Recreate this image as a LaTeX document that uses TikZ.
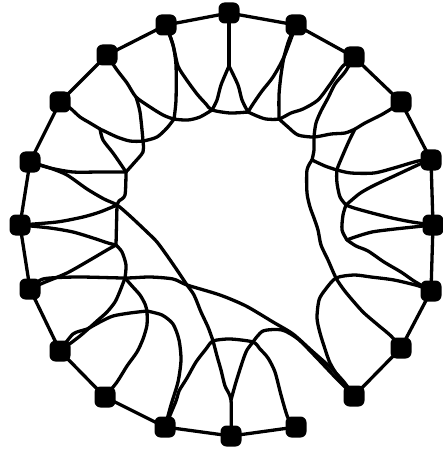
\documentclass[tikz,border=0pt]{standalone}
\begin{document}
\begin{tikzpicture}[x=1pt,y=-1pt,
  vtx/.style={fill=black, rectangle, rounded corners=6pt, minimum size=21pt, inner sep=0pt},
  edge/.style={line width=3.3pt, line cap=round, line join=round},
  sm/.style={smooth, tension=0.45}]
\useasboundingbox (0,0) rectangle (442,449);
% outer vertices
\node[vtx] (P0) at (229,13) {};
\node[vtx] (P1) at (296,25) {};
\node[vtx] (P2) at (354,57) {};
\node[vtx] (P3) at (401,102) {};
\node[vtx] (P4) at (431,160) {};
\node[vtx] (P5) at (433,225) {};
\node[vtx] (P6) at (431,291) {};
\node[vtx] (P7) at (401,348) {};
\node[vtx] (P8) at (354,396) {};
\node[vtx] (P9) at (296,427) {};
\node[vtx] (P10) at (231,436) {};
\node[vtx] (P11) at (165,427) {};
\node[vtx] (P12) at (105,397) {};
\node[vtx] (P13) at (60,351) {};
\node[vtx] (P14) at (30,289) {};
\node[vtx] (P15) at (20,225) {};
\node[vtx] (P16) at (30,162) {};
\node[vtx] (P17) at (60,102) {};
\node[vtx] (P18) at (107,55) {};
\node[vtx] (P19) at (166,25) {};
% inner junctions
\coordinate (T0) at (229,66);
\coordinate (K0) at (212,110);
\coordinate (K1) at (248,112);
\coordinate (Ja) at (174,119);
\coordinate (J18) at (136,97);
\coordinate (J17) at (100,129);
\coordinate (Xc) at (143,141);
\coordinate (Jb) at (126,172);
\coordinate (Jl1) at (117,205);
\coordinate (Jl2) at (116,245);
\coordinate (Jl) at (125,278);
\coordinate (Jm) at (147,311);
\coordinate (Jx) at (187,285);
\coordinate (Bv) at (231,400);
\coordinate (BL) at (213,341);
\coordinate (BR) at (253,342);
\coordinate (Jc) at (279,119);
\coordinate (Jd) at (314,137);
\coordinate (Je) at (355,129);
\coordinate (S2) at (312,160);
\coordinate (Ji) at (337,170);
\coordinate (Jf) at (346,205);
\coordinate (Jg) at (347,240);
\coordinate (Jh) at (336,278);
% outer path
\draw[edge] (P9.center) -- (P10.center) -- (P11.center) -- (P12.center) -- (P13.center)
  -- (P14.center) -- (P15.center) -- (P16.center) -- (P17.center) -- (P18.center)
  -- (P19.center) -- (P0.center) -- (P1.center) -- (P2.center) -- (P3.center)
  -- (P4.center) -- (P5.center) -- (P6.center) -- (P7.center) -- (P8.center);
% top
\draw[edge] plot[sm] coordinates {(P19.center) (173,45) (176,65) (176,100) (Ja)};
\draw[edge] plot[sm] coordinates {(P19.center) (173,45) (178,66) (186,79) (197,94) (206,104) (K0) (230,113) (K1)};
\draw[edge] plot[sm] coordinates {(K1) (253,104) (262,91) (273,77) (284,57) (P1.center)};
\draw[edge] (P0.center) -- (T0);
\draw[edge] plot[sm] coordinates {(T0) (221,85) (217,100) (K0)};
\draw[edge] plot[sm] coordinates {(K0) (200,117) (188,120) (Ja) (163,115) (150,107) (J18) (127,83) (117,70) (P18.center)};
\draw[edge] plot[sm] coordinates {(T0) (238,85) (242,100) (K1)};
\draw[edge] plot[sm] coordinates {(K1) (257,116) (266,119) (Jc) (291,113) (303,109) (318,100) (331,83) (342,67) (P2.center)};
% right
\draw[edge] plot[sm] coordinates {(P1.center) (289,40) (284,57) (281,75) (279,95) (Jc)};
\draw[edge] plot[sm] coordinates {(Jc) (288,127) (298,135) (Jd) (331,134) (345,133) (Je) (365,123) (381,115) (391,109) (P3.center)};
\draw[edge] plot[sm] coordinates {(P2.center) (345,72) (335,84) (328,98) (321,111) (316,123) (Jd) (314,150) (S2)};
\draw[edge] plot[sm] coordinates {(S2) (325,166) (Ji) (351,173) (374,173) (394,168) (418,161) (P4.center)};
\draw[edge] plot[sm] coordinates {(Je) (349,141) (342,157) (Ji) (337,183) (340,197) (Jf)};
\draw[edge] plot[sm] coordinates {(Jf) (354,208) (372,213) (392,218) (412,222) (P5.center)};
\draw[edge] plot[sm] coordinates {(P4.center) (420,164) (392,177) (379,183) (369,188) (359,194) (Jf)};
\draw[edge] plot[sm] coordinates {(Jf) (343,215) (342,230) (Jg)};
\draw[edge] plot[sm] coordinates {(Jg) (355,237) (372,232) (395,229) (P5.center)};
\draw[edge] plot[sm] coordinates {(Jg) (356,246) (368,251) (384,262) (401,272) (414,281) (P6.center)};
\draw[edge] plot[sm] coordinates {(S2) (307,170) (307,193) (310,207) (314,218) (318,230) (321,245) (328,260) (Jh) (344,290) (354,302) (364,313) (378,325) (391,336) (P7.center)};
\draw[edge] plot[sm] coordinates {(P6.center) (419,286) (394,280) (371,277) (354,275) (Jh) (325,290) (319,300) (317,318) (320,333) (325,349) (330,363) (338,376) (P8.center)};
% long curves through the middle
\draw[edge] plot[sm] coordinates {(P14.center) (43,279) (77,277) (Jl) (150,277) (173,279) (Jx) (220,295) (246,306) (273,322) (293,334) (312,351) (330,367) (344,382) (P8.center)};
\draw[edge] plot[sm] coordinates {(P16.center) (50,168) (67,175) (87,189) (104,199) (Jl1) (130,216) (147,232) (157,242) (168,257) (179,273) (Jx) (194,295) (201,312) (208,327) (BL) (217,356) (221,370) (225,386) (Bv) (P10.center)};
\draw[edge] plot[sm] coordinates {(Bv) (236,382) (243,360) (247,350) (BR)};
\draw[edge] plot[sm] coordinates {(BR) (263,331) (282,330) (298,339) (316,357) (335,377) (P8.center)};
% bottom
\draw[edge] plot[sm] coordinates {(P11.center) (176,401) (179,391) (187,378) (196,362) (206,349) (BL) (230,339) (BR) (260,349) (268,358) (275,372) (281,395) (288,418) (P9.center)};
\draw[edge] plot[sm] coordinates {(P11.center) (171,405) (178,382) (181,360) (179,340) (173,324) (162,315) (Jm)};
\draw[edge] plot[sm] coordinates {(P13.center) (73,334) (87,329) (100,322) (113,316) (130,313) (Jm)};
\draw[edge] plot[sm] coordinates {(P13.center) (80,336) (97,321) (107,312) (115,302) (120,291) (Jl)};
\draw[edge] plot[sm] coordinates {(Jl) (132,286) (140,295) (145,304) (Jm)};
\draw[edge] plot[sm] coordinates {(P12.center) (117,382) (127,366) (137,352) (143,339) (147,325) (Jm)};
% left
\draw[edge] plot[sm] coordinates {(Jl2) (122,252) (126,265) (Jl)};
\draw[edge] plot[sm] coordinates {(P14.center) (43,283) (67,273) (90,260) (107,250) (Jl2)};
\draw[edge] plot[sm] coordinates {(P15.center) (50,228) (73,232) (93,238) (108,243) (Jl2)};
\draw[edge] plot[sm] coordinates {(P15.center) (57,222) (83,217) (100,212) (Jl1)};
\draw[edge] (Jl1) -- (Jl2);
\draw[edge] plot[sm] coordinates {(Jb) (125,195) (119,201) (Jl1)};
\draw[edge] plot[sm] coordinates {(P16.center) (50,168) (73,172) (100,172) (Jb)};
\draw[edge] plot[sm] coordinates {(P17.center) (70,108) (80,117) (90,123) (J17)};
\draw[edge] plot[sm] coordinates {(J17) (117,137) (130,141) (Xc) (157,137) (167,128) (Ja)};
\draw[edge] plot[sm] coordinates {(J17) (103,140) (113,153) (122,166) (Jb)};
\draw[edge] plot[sm] coordinates {(J18) (140,112) (Xc) (143,152) (134,163) (Jb)};
\end{tikzpicture}
\end{document}
